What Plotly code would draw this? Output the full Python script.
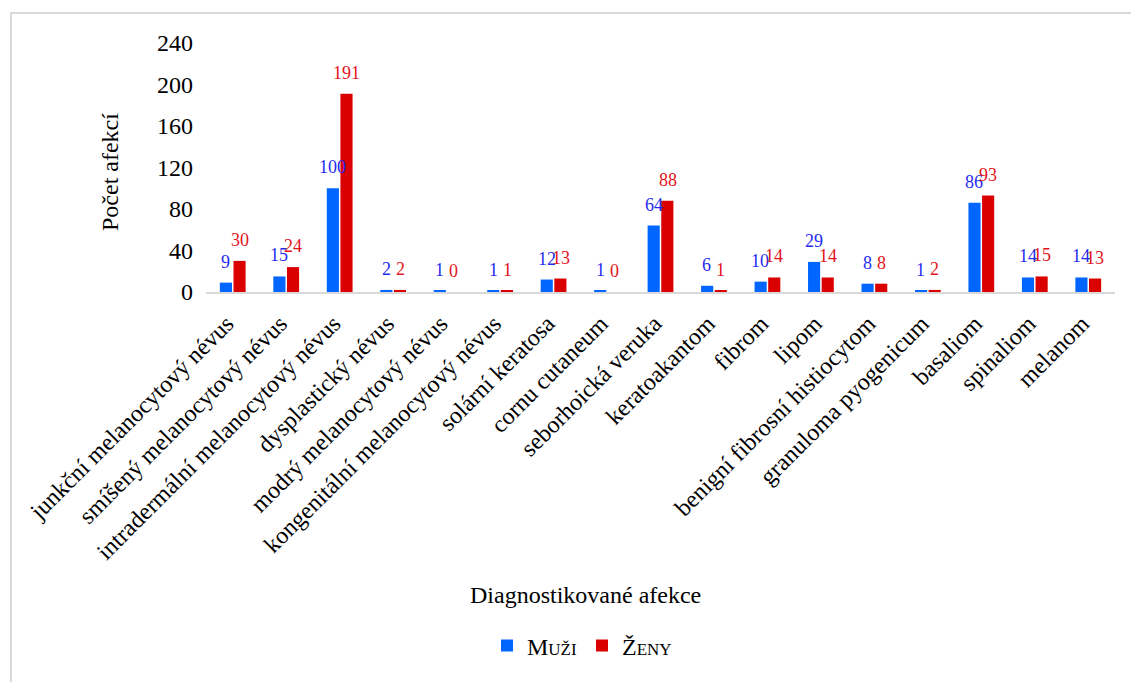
import plotly.graph_objects as go

# Diagnosed skin lesions by sex
categories = [
    "junkční melanocytový névus",
    "smíšený melanocytový névus",
    "intradermální melanocytový névus",
    "dysplastický névus",
    "modrý melanocytový névus",
    "kongenitální melanocytový névus",
    "solární keratosa",
    "cornu cutaneum",
    "seborhoická veruka",
    "keratoakantom",
    "fibrom",
    "lipom",
    "benigní fibrosní histiocytom",
    "granuloma pyogenicum",
    "basaliom",
    "spinaliom",
    "melanom",
]
muzi = [9, 15, 100, 2, 1, 1, 12, 1, 64, 6, 10, 29, 8, 1, 86, 14, 14]
zeny = [30, 24, 191, 2, 0, 1, 13, 0, 88, 1, 14, 14, 8, 2, 93, 15, 13]
y_ticks = [0, 40, 80, 120, 160, 200, 240]

W, H = 1131, 682
ML, MR, MT, MB = 206, 16, 43, 390
PW, PH = W - ML - MR, H - MT - MB

FONT = "Liberation Serif, Times New Roman, serif"
BLUE, RED = "#0066ff", "#db0000"
BLUE_TXT, RED_TXT = "#1f2bf0", "#e3141c"


def px_x(px):
    return (px - ML) / PW


def px_y(py):
    return (H - MB - py) / PH


fig = go.Figure()
fig.add_trace(go.Bar(name="Muži", x=categories, y=muzi,
                     marker=dict(color=BLUE, line=dict(width=0))))
fig.add_trace(go.Bar(name="Ženy", x=categories, y=zeny,
                     marker=dict(color=RED, line=dict(width=0))))

# value labels above each bar
annotations = []
for cat, vm, vz in zip(categories, muzi, zeny):
    annotations.append(dict(x=cat, y=vm, xref="x", yref="y", text=str(vm),
                            showarrow=False, xshift=-7, yshift=21,
                            yanchor="middle",
                            font=dict(family=FONT, size=18, color=BLUE_TXT)))
    annotations.append(dict(x=cat, y=vz, xref="x", yref="y", text=str(vz),
                            showarrow=False, xshift=7, yshift=21,
                            yanchor="middle",
                            font=dict(family=FONT, size=18, color=RED_TXT)))

# axis titles
annotations.append(dict(x=px_x(110), y=px_y(172), xref="paper", yref="paper",
                        xanchor="center", yanchor="middle",
                        text="Počet afekcí", textangle=-90, showarrow=False,
                        font=dict(family=FONT, size=24, color="#000")))
annotations.append(dict(x=px_x(585), y=px_y(595), xref="paper", yref="paper",
                        xanchor="center", yanchor="middle",
                        text="Diagnostikované afekce", showarrow=False,
                        font=dict(family=FONT, size=24, color="#000")))

fig.update_layout(
    width=W, height=H,
    margin=dict(l=ML, r=MR, t=MT, b=MB),
    paper_bgcolor="white", plot_bgcolor="white",
    barmode="group", bargap=0.49, bargroupgap=0.11,
    font=dict(family=FONT, color="#000"),
    annotations=annotations,
    showlegend=True,
    legend=dict(orientation="h", x=px_x(582), y=px_y(646),
                xanchor="center", yanchor="middle",
                font=dict(family=FONT, size=24, color="#000",
                          variant="small-caps"),
                itemwidth=30),
    shapes=[dict(type="rect", xref="paper", yref="paper",
                 x0=px_x(11), x1=px_x(1140), y0=px_y(690), y1=px_y(13),
                 line=dict(color="#d9d9d9", width=2), layer="below")],
    xaxis=dict(tickangle=-45, tickfont=dict(family=FONT, size=24, color="#000"),
               showline=True, linecolor="#d9d9d9", linewidth=2,
               showgrid=False, ticks="",
               ticklabelstandoff=6, ticklabelshift=-6),
    yaxis=dict(range=[0, 240], tickvals=y_ticks, showgrid=False,
               zeroline=False, showline=False, ticks="",
               tickfont=dict(family=FONT, size=24, color="#000"),
               ticklabelstandoff=12),
)

fig.write_html("out.html")
